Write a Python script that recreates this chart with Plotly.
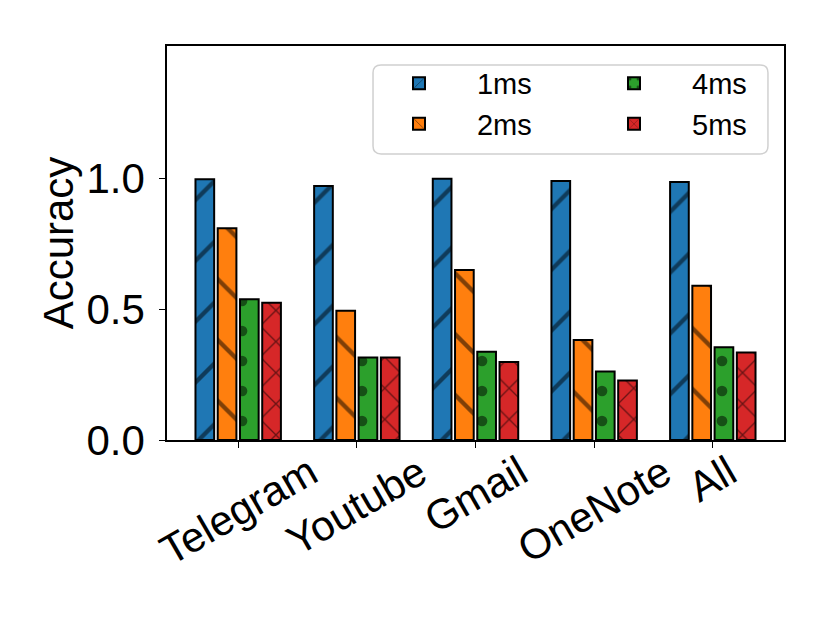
import plotly.graph_objects as go

apps = ["Telegram", "Youtube", "Gmail", "OneNote", "All"]
acc_1ms = [0.998, 0.972, 1.0, 0.991, 0.987]
acc_2ms = [0.810, 0.495, 0.651, 0.383, 0.590]
acc_4ms = [0.539, 0.316, 0.338, 0.262, 0.355]
acc_5ms = [0.525, 0.316, 0.299, 0.228, 0.335]

# name, values, colour, hatch, which legend column
series = [
    ("1ms", acc_1ms, "#1f77b4", "/", "legend"),
    ("2ms", acc_2ms, "#ff7f0e", "\\", "legend"),
    ("4ms", acc_4ms, "#2ca02c", ".", "legend2"),
    ("5ms", acc_5ms, "#d62728", "x", "legend2"),
]
hatch_size = {"/": 43, "\\": 43, ".": 30, "x": 22}
hatch_solid = {"/": 0.1, "\\": 0.1, ".": 0.1, "x": 0.12}

fig = go.Figure()
for name, vals, color, shape, leg in series:
    fig.add_trace(go.Bar(
        x=apps, y=vals, name=name, legend=leg,
        marker=dict(
            color=color,
            line=dict(color="black", width=2),
            pattern=dict(shape=shape, fgcolor="black", bgcolor=color,
                         size=hatch_size[shape], solidity=hatch_solid[shape]),
        ),
    ))

font = "Liberation Sans, Arial, sans-serif"
leg_style = dict(
    orientation="v", itemwidth=106, yanchor="top", xanchor="left",
    bgcolor="rgba(0,0,0,0)", borderwidth=0, tracegroupgap=0,
    font=dict(size=29, family=font),
)
fig.update_layout(
    width=830, height=623,
    margin=dict(l=159, r=54, t=38, b=191),
    paper_bgcolor="white", plot_bgcolor="white",
    font=dict(family=font, color="black"),
    barmode="group", bargap=0.25, bargroupgap=0.16,
    showlegend=True,
    legend=dict(x=0.3144, y=0.97, **leg_style),
    legend2=dict(x=0.6629, y=0.97, **leg_style),
)

# legend frame with rounded corners (paper coords)
x0, x1, y0, y1 = 0.3339, 0.974, 0.726, 0.952
rx, ry = 0.013, 0.02
frame = (f"M {x0+rx},{y0} L {x1-rx},{y0} Q {x1},{y0} {x1},{y0+ry} "
         f"L {x1},{y1-ry} Q {x1},{y1} {x1-rx},{y1} L {x0+rx},{y1} "
         f"Q {x0},{y1} {x0},{y1-ry} L {x0},{y0+ry} Q {x0},{y0} {x0+rx},{y0} Z")
fig.add_shape(type="path", path=frame, xref="paper", yref="paper",
              line=dict(color="#cccccc", width=1.5), fillcolor="white",
              opacity=0.9, layer="above")

# rotated category labels, centred under each tick
for app in apps:
    fig.add_annotation(x=app, xref="x", y=0, yref="paper", yshift=-4,
                       text=app, showarrow=False, textangle=-30,
                       xanchor="center", yanchor="top",
                       font=dict(size=42, family=font))

fig.update_xaxes(
    range=[-0.6, 4.6], showticklabels=False, automargin=False,
    showline=True, linecolor="black", linewidth=1.5, mirror=True,
    ticks="outside", ticklen=6, tickcolor="black", showgrid=False,
)
fig.update_yaxes(
    range=[0, 1.508], tickvals=[0, 0.5, 1.0], tickformat=".1f",
    tickfont=dict(size=42), ticklabelstandoff=6, automargin=False,
    title=dict(text="Accuracy", font=dict(size=42), standoff=0),
    showline=True, linecolor="black", linewidth=1.5, mirror=True,
    ticks="outside", ticklen=6, tickcolor="black", showgrid=False, zeroline=False,
)

fig.write_html("out.html")
